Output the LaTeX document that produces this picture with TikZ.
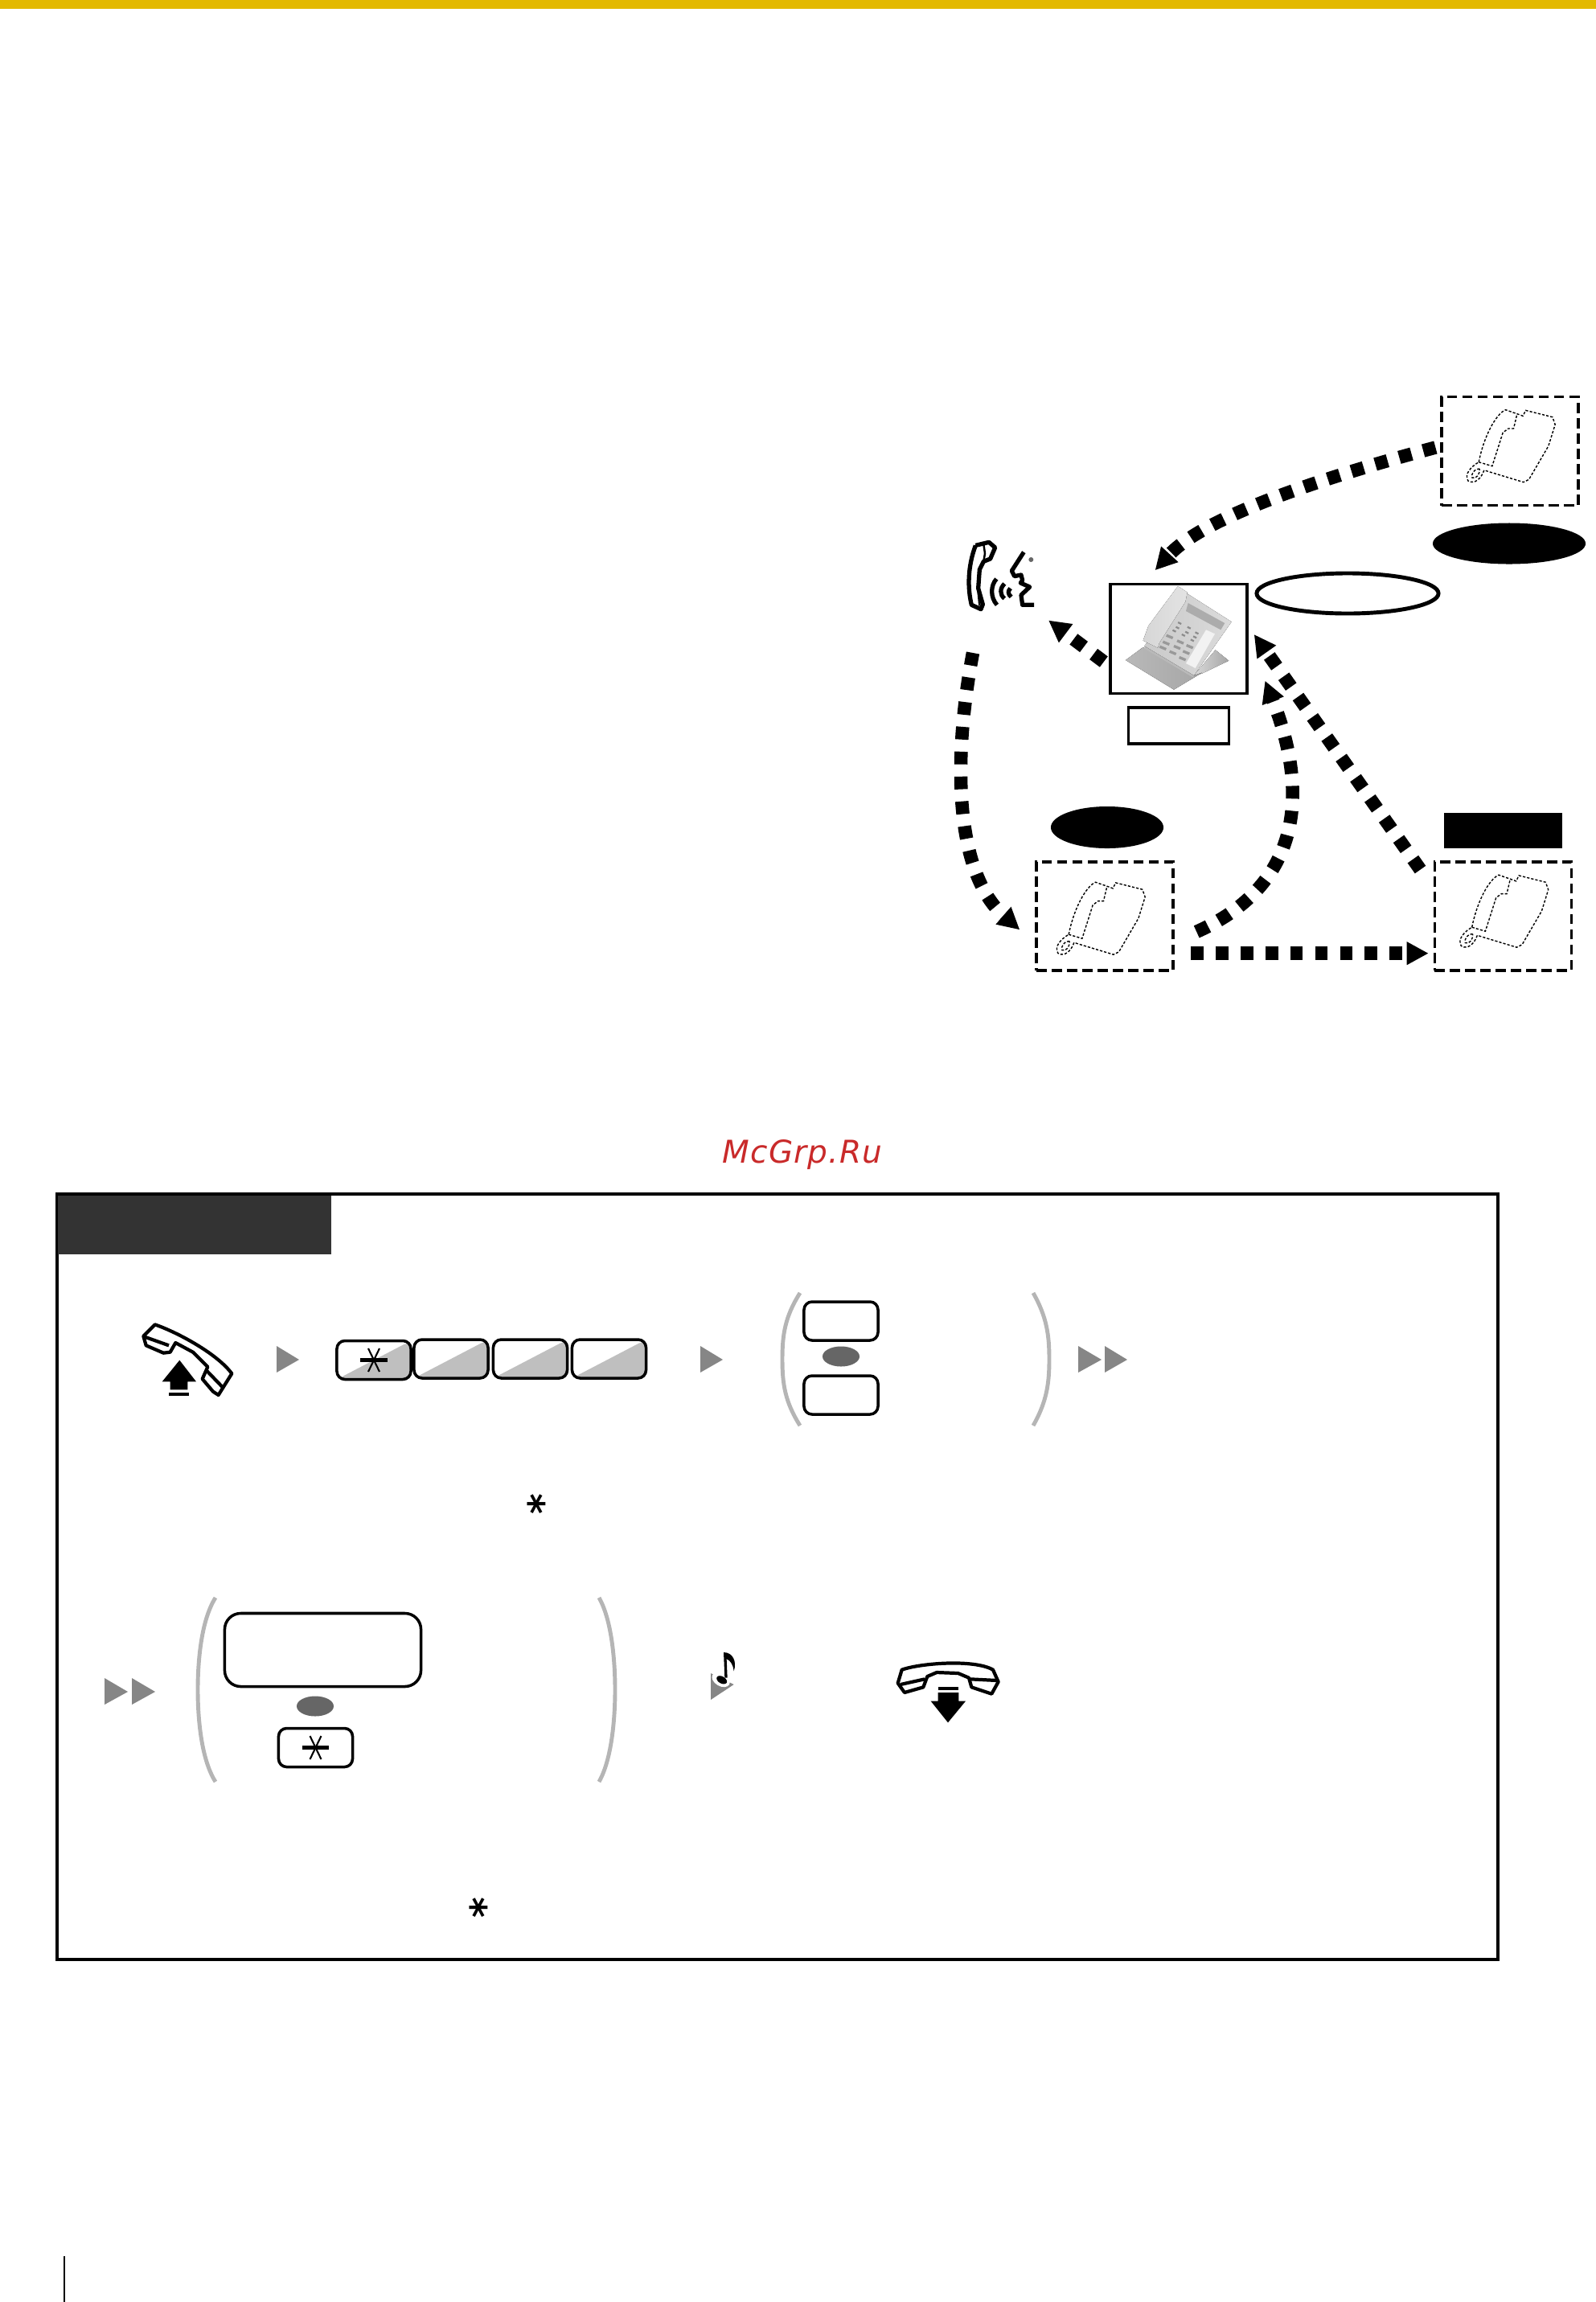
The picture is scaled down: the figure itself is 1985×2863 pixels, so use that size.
\documentclass[tikz,border=0pt]{standalone}
\usepackage{fontspec}
\usepackage{tikz}
\usetikzlibrary{shapes,arrows.meta,positioning,calc}
\newfontfamily\markfont{DejaVu Sans}[LetterSpace=3]
\newfontfamily\starfont{DejaVu Sans}
\definecolor{bandyellow}{HTML}{E3B900}
\definecolor{headgray}{HTML}{333333}
\definecolor{markgray}{HTML}{868686}
\definecolor{ovalgray}{HTML}{666666}
\definecolor{brackgray}{HTML}{B5B5B5}
\definecolor{shadegray}{HTML}{BFBFBF}
\definecolor{wmred}{HTML}{C92A2A}
\tikzset{
    dotarrow/.style={line width=4.7pt, dash pattern=on 4.5pt off 4.3pt, -{Triangle[length=0.27cm,width=0.27cm]}},
    dashbox/.style={draw, dash pattern=on 3.6pt off 1.8pt, line width=1pt, minimum width=1.70cm, minimum height=1.35cm, inner sep=0pt},
    keybox/.style={draw, rounded corners=0.1cm, line width=1pt, minimum width=0.92cm, minimum height=0.48cm, inner sep=0pt},
    keyshade/.style={keybox, path picture={\fill[shadegray] (path picture bounding box.south west) -- (path picture bounding box.north east) -- (path picture bounding box.south east) -- cycle;}},
    blackoval/.style={ellipse, fill=black, inner sep=0pt},
    graymark/.style={fill=markgray},
    sepoval/.style={ellipse, fill=ovalgray, inner sep=0pt, minimum width=0.46cm, minimum height=0.25cm},
    iconline/.style={line width=1.2pt, line join=round},
    speakline/.style={line width=1.5pt, line join=round},
    thinphone/.style={line width=0.4pt, dash pattern=on 0.9pt off 0.6pt},
    brack/.style={brackgray, line width=1.4pt}
}
% outline phone, inside a dashed box
\newcommand{\thinset}[2]{
    \begin{scope}[shift={(#1.north west)},shift={#2},scale=0.3333]
        \draw[thinphone] (75,240) .. controls (95,140) and (140,60) .. (175,45) -- (218,60) -- (240,68) -- (250,47) -- (350,72) -- (360,100) -- (335,180) -- (262,305) -- (242,315) -- (110,275) -- (95,270) .. controls (85,300) and (60,325) .. (35,310) .. controls (20,285) and (45,258) .. (75,240);
        \draw[thinphone] (75,240) -- (125,255) -- (165,130) -- (185,115) -- (205,115) -- (218,60);
        \draw[thinphone] (78,265) .. controls (60,262) and (45,285) .. (50,298) .. controls (65,305) and (80,285) .. (78,265);
    \end{scope}
}
\newcommand{\keystar}[1]{
    \draw[line width=1.2pt] ([xshift=-0.165cm]#1.center) -- ([xshift=0.165cm]#1.center);
    \draw[line width=0.6pt] ([shift={(-7,-14.5)}]#1.center) -- ([shift={(7,14.5)}]#1.center);
    \draw[line width=0.6pt] ([shift={(7,-14.5)}]#1.center) -- ([shift={(-7,14.5)}]#1.center);
}
\newcommand{\twoparen}[4]{
    \draw[brack] (#1+24,#3) .. controls (#1+5,#3+30) and (#1+2,#4*0.5+#3*0.5-30) .. (#1+2,#4*0.5+#3*0.5) .. controls (#1+2,#4*0.5+#3*0.5+30) and (#1+5,#4-30) .. (#1+24,#4);
    \draw[brack] (#2-22,#3) .. controls (#2-5,#3+30) and (#2-2,#4*0.5+#3*0.5-30) .. (#2-2,#4*0.5+#3*0.5) .. controls (#2-2,#4*0.5+#3*0.5+30) and (#2-5,#4-30) .. (#2-22,#4);
}
\begin{document}
\begin{tikzpicture}[x=0.01cm,y=-0.01cm]
    \useasboundingbox (0,0) rectangle (1985,2863);
    \fill[bandyellow] (0,0) rectangle (1985,11);

    % boxes of the upper sketch
    \node[dashbox] (extop) at (1878,561) {};
    \node[dashbox] (exleft) at (1374,1139.5) {};
    \node[dashbox] (exright) at (1869.5,1139.5) {};
    \node[draw, line width=1pt, minimum width=1.70cm, minimum height=1.36cm, inner sep=0pt] (dpt) at (1466,794.5) {};
    \node[draw, line width=1pt, minimum width=1.25cm, minimum height=0.45cm, inner sep=0pt, below=0.14cm of dpt] (dptname) {};
    \node[blackoval, minimum width=1.90cm, minimum height=0.51cm] (ovaltop) at (1877,676) {};
    \node[draw, ellipse, line width=1.4pt, minimum width=2.26cm, minimum height=0.50cm, inner sep=0pt] (ovalmid) at (1676,738) {};
    \node[blackoval, minimum width=1.40cm, minimum height=0.52cm] (ovalleft) at (1377,1029) {};
    \node[fill=black, minimum width=1.47cm, minimum height=0.44cm, inner sep=0pt] (tagright) at (1869.5,1033) {};
    \coordinate (caller) at (1304,771.5);
    \coordinate (callerfoot) at (1210,812);

    \thinset{extop}{(23,3)}
    \thinset{exleft}{(17,12)}
    \thinset{exright}{(23,3)}

    % desk phone in the middle box
    \begin{scope}[shift={(1385,725)},scale=0.3333]
        \fill[left color=gray!30, right color=gray!70] (380,250) -- (430,290) -- (330,338) -- (300,345) -- cycle;
        \fill[left color=gray!55, middle color=white, right color=gray!70] (45,288) -- (110,240) -- (300,345) -- (330,335) -- (225,398) -- cycle;
        \fill[gray!55] (115,235) -- (300,345) -- (295,352) -- (115,245) -- cycle;
        \fill[left color=gray!42, right color=gray!28] (275,40) -- (440,145) -- (300,345) -- (115,235) -- cycle;
        \fill[left color=gray!32, right color=gray!22] (240,12) -- (275,35) -- (268,70) -- (170,225) -- (165,242) -- (110,215) -- (130,160) -- cycle;
        \fill[gray!65] (278,75) -- (415,150) -- (400,175) -- (270,105) -- cycle;
        \fill[gray!10] (345,175) -- (378,190) -- (305,318) -- (270,300) -- cycle;
        \foreach \kx/\ky in {248/148,283/165,312/185,240/165,275/183,305/200,228/177,262/193,295/212}
            \fill[gray!90] (\kx,\ky) ++(-6,-4) -- ++(12,6) -- ++(-3,6) -- ++(-12,-6) -- cycle;
        \foreach \kx/\ky in {210/198,250/218,285/235,197/222,238/238,272/257,185/240,222/258,258/280}
            \fill[gray!80] (\kx,\ky) ++(-11,-7) -- ++(24,10) -- ++(-4,9) -- ++(-24,-10) -- cycle;
    \end{scope}

    % caller with handset
    \begin{scope}[shift={(1190,665)},scale=0.3333]
        \draw[speakline] (70,40) -- (120,28) -- (143,48) -- (125,90) -- (100,100) -- (85,130) -- (80,200) -- (97,260) -- (90,278) -- (55,262) .. controls (40,200) and (40,120) .. (70,40);
        \draw[line width=0.7pt] (100,35) -- (105,70) -- (100,100);
        \draw[line width=0.7pt] (80,215) -- (85,265);
        \draw[speakline] (148,165) .. controls (125,190) and (125,235) .. (150,262);
        \draw[speakline] (178,183) .. controls (160,200) and (160,225) .. (178,238);
        \draw[speakline] (200,200) .. controls (190,210) and (190,222) .. (203,232);
        \draw[speakline] (250,65) -- (205,135) -- (215,155) -- (240,150) -- (245,170) -- (238,180) -- (272,195) -- (240,225) -- (245,262) -- (288,262);
        \fill[gray!80!black] (277,93) circle (9);
    \end{scope}

    % connectors of the upper sketch
    \draw[dotarrow, shorten <=0.06cm, shorten >=0.21cm] (extop.176) .. controls (1660,590) and (1500,640) .. (dpt.122);
    \draw[dotarrow, shorten <=0.08cm] (dpt.201) -- (caller);
    \draw[dotarrow, shorten >=0.25cm] (callerfoot) .. controls (1182,960) and (1192,1090) .. (exleft.201.5);
    \draw[dotarrow, shorten <=0.30cm, shorten >=0.56cm] (exleft.-20) .. controls (1620,1100) and (1628,985) .. (dpt.east);
    \draw[dotarrow, shorten <=0.28cm, shorten >=0.12cm] (exright.158) -- (dpt.10);
    \draw[dotarrow, shorten <=0.20cm, shorten >=0.06cm] (exleft.-28.2) -- (exright.208.2);

    \node[text=wmred, font=\markfont\itshape\fontsize{11.1}{13}\selectfont] (wmark) at (998,1436) {McGrp.Ru};

    % procedure frame
    \draw[line width=1.3pt] (71,1485) rectangle (1863,2437);
    \fill[headgray] (72,1487) rectangle (412,1560);

    % first row
    \begin{scope}[shift={(170,1640)},scale=0.3333]
        \draw[iconline] (25,65) -- (68,22) .. controls (150,50) and (300,130) .. (355,205) -- (305,285) -- (285,272) -- (245,225) -- (265,180) -- (210,125) -- (145,90) -- (125,125) -- (100,128) -- (35,100) -- cycle;
        \draw[iconline] (30,68) -- (120,100);
        \draw[iconline] (262,195) -- (320,255);
        \fill (160,155) -- (222,235) -- (190,235) -- (190,265) -- (125,265) -- (125,235) -- (95,235) -- cycle;
        \fill (120,275) rectangle (195,288);
    \end{scope}
    \fill[graymark] (344,1674) -- (372,1691) -- (344,1707) -- cycle;
    \node[keyshade] (keya) at (465,1691.5) {};
    \node[keyshade] (keyb) at (561,1690) {};
    \node[keyshade] (keyc) at (659.5,1690) {};
    \node[keyshade] (keyd) at (757.5,1690) {};
    \keystar{keya}
    \fill[graymark] (871,1674) -- (899,1691) -- (871,1707) -- cycle;
    \twoparen{971}{1307}{1608}{1773}
    \node[keybox] (keyup) at (1046,1643) {};
    \node[sepoval] (sepa) at (1046,1687) {};
    \node[keybox] (keylow) at (1046,1735) {};
    \fill[graymark] (1341,1674) -- (1370,1691) -- (1341,1707) -- cycle;
    \fill[graymark] (1374,1674) -- (1402,1691) -- (1374,1707) -- cycle;
    \node[inner sep=0pt, font=\starfont\bfseries\fontsize{14}{14}\selectfont] (stara) at (674,1871) {\rotatebox{90}{*}};

    % second row
    \fill[graymark] (130,2087) -- (159,2104) -- (130,2120) -- cycle;
    \fill[graymark] (164,2087) -- (193,2104) -- (164,2120) -- cycle;
    \twoparen{244}{767}{1987}{2216}
    \node[keybox, minimum width=2.44cm, minimum height=0.91cm, rounded corners=0.2cm] (keywide) at (401.5,2052) {};
    \node[sepoval] (sepb) at (392,2122) {};
    \node[keybox] (keystar) at (392.5,2173.5) {};
    \keystar{keystar}
    % tone mark
    \begin{scope}[shift={(870,2045)},scale=0.3333]
        \fill[graymark] (42,108) -- (42,207) -- (128,150) -- cycle;
        \fill[white,rotate around={-30:(80,132)}] (80,132) ellipse (36 and 24);
        \fill (90,30) .. controls (125,30) and (140,65) .. (128,100) .. controls (125,75) and (115,60) .. (101,55) -- (104,125) -- (94,125) -- cycle;
        \fill[rotate around={-30:(83,133)}] (83,133) ellipse (21 and 13);
    \end{scope}
    % hook
    \begin{scope}[shift={(1105,2055)},scale=0.3333]
        \draw[iconline] (50,65) .. controls (120,40) and (320,25) .. (390,65) -- (410,110) -- (385,155) -- (310,130) -- (300,95) -- (260,78) -- (180,75) -- (145,90) -- (130,130) -- (60,150) -- (35,115) -- cycle;
        \draw[iconline] (45,120) -- (135,100);
        \draw[iconline] (305,100) -- (405,105);
        \fill (222,262) -- (288,182) -- (262,182) -- (262,150) -- (185,150) -- (185,182) -- (158,182) -- cycle;
        \fill (185,128) rectangle (262,142);
    \end{scope}
    \node[inner sep=0pt, font=\starfont\bfseries\fontsize{14}{14}\selectfont] (starb) at (602,2373) {\rotatebox{90}{*}};

    % page margin rule
    \draw[line width=0.4pt] (80,2806) -- (80,2863);
\end{tikzpicture}
\end{document}
